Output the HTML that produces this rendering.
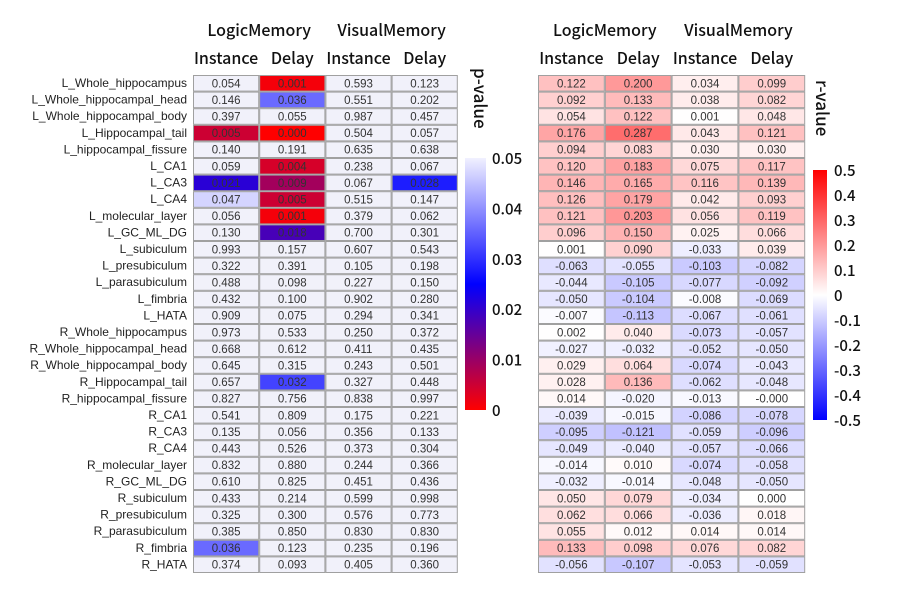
<!DOCTYPE html>
<html><head><meta charset="utf-8"><style>
body{margin:0;background:#fff;width:900px;height:600px;overflow:hidden}
svg{display:block}
</style></head><body>
<svg id="chart" width="900" height="600"></svg>
<script>
const rowLabels=["L_Whole_hippocampus","L_Whole_hippocampal_head","L_Whole_hippocampal_body","L_Hippocampal_tail","L_hippocampal_fissure","L_CA1","L_CA3","L_CA4","L_molecular_layer","L_GC_ML_DG","L_subiculum","L_presubiculum","L_parasubiculum","L_fimbria","L_HATA","R_Whole_hippocampus","R_Whole_hippocampal_head","R_Whole_hippocampal_body","R_Hippocampal_tail","R_hippocampal_fissure","R_CA1","R_CA3","R_CA4","R_molecular_layer","R_GC_ML_DG","R_subiculum","R_presubiculum","R_parasubiculum","R_fimbria","R_HATA"];
const colLabels=["Instance","Delay","Instance","Delay"];
const groupLabels=["LogicMemory","VisualMemory"];
const pLogicInst=[0.054,0.146,0.397,0.005,0.140,0.059,0.021,0.047,0.056,0.130,0.993,0.322,0.488,0.432,0.909,0.973,0.668,0.645,0.657,0.827,0.541,0.135,0.443,0.832,0.610,0.433,0.325,0.385,0.036,0.374];
const pLogicDelay=[0.001,0.036,0.055,0.000,0.191,0.004,0.009,0.005,0.001,0.018,0.157,0.391,0.098,0.100,0.075,0.533,0.612,0.315,0.032,0.756,0.809,0.056,0.526,0.880,0.825,0.214,0.300,0.850,0.123,0.093];
const pVisInst=[0.593,0.551,0.987,0.504,0.635,0.238,0.067,0.515,0.379,0.700,0.607,0.105,0.227,0.902,0.294,0.250,0.411,0.243,0.327,0.838,0.175,0.356,0.373,0.244,0.451,0.599,0.576,0.830,0.235,0.405];
const pVisDelay=[0.123,0.202,0.457,0.057,0.638,0.067,0.028,0.147,0.062,0.301,0.543,0.198,0.150,0.280,0.341,0.372,0.435,0.501,0.448,0.997,0.221,0.133,0.304,0.366,0.436,0.998,0.773,0.830,0.196,0.360];
const rLogicInst=[0.122,0.092,0.054,0.176,0.094,0.120,0.146,0.126,0.121,0.096,0.001,-0.063,-0.044,-0.050,-0.007,0.002,-0.027,0.029,0.028,0.014,-0.039,-0.095,-0.049,-0.014,-0.032,0.050,0.062,0.055,0.133,-0.056];
const rLogicDelay=[0.200,0.133,0.122,0.287,0.083,0.183,0.165,0.179,0.203,0.150,0.090,-0.055,-0.105,-0.104,-0.113,0.040,-0.032,0.064,0.136,-0.020,-0.015,-0.121,-0.040,0.010,-0.014,0.079,0.066,0.012,0.098,-0.107];
const rVisInst=[0.034,0.038,0.001,0.043,0.030,0.075,0.116,0.042,0.056,0.025,-0.033,-0.103,-0.077,-0.008,-0.067,-0.073,-0.052,-0.074,-0.062,-0.013,-0.086,-0.059,-0.057,-0.074,-0.048,-0.034,-0.036,0.014,0.076,-0.053];
const rVisDelay=[0.099,0.082,0.048,0.121,0.030,0.117,0.139,0.093,0.119,0.066,0.039,-0.082,-0.092,-0.069,-0.061,-0.057,-0.050,-0.043,-0.048,-0.000,-0.078,-0.096,-0.066,-0.058,-0.050,0.000,0.018,0.014,0.082,-0.059];
const pTicks=[0.05,0.04,0.03,0.02,0.01,0];
const rTicks=[0.5,0.4,0.3,0.2,0.1,0,-0.1,-0.2,-0.3,-0.4,-0.5];

const NS="http://www.w3.org/2000/svg";
const svg=document.getElementById('chart');
function mk(tag,attrs,parent){const e=document.createElementNS(NS,tag);for(const k in attrs)e.setAttribute(k,attrs[k]);(parent||svg).appendChild(e);return e;}
const FONT='"Liberation Sans",Arial,sans-serif';
const HFONT='"Noto Sans CJK SC","Liberation Sans",sans-serif';
const top0=75,rowH=16.6;
const yRow=i=>top0+i*rowH;
function lerp(a,b,t){return a.map((v,i)=>Math.round(v+(b[i]-v)*t));}
function pColor(p){
  if(p>=0.05) return 'rgb(241,241,250)';
  if(p<=0.025) return 'rgb('+lerp([255,0,0],[0,0,255],p/0.025).join(',')+')';
  return 'rgb('+lerp([0,0,255],[241,241,255],(p-0.025)/0.025).join(',')+')';
}
function rColor(r){
  const t=Math.min(1,Math.abs(r)/0.5);
  return r>=0?'rgb('+lerp([255,255,255],[255,0,0],t).join(',')+')':'rgb('+lerp([255,255,255],[0,0,255],t).join(',')+')';
}
const xCols=(x0,w)=>j=>x0+j*w;

rowLabels.forEach((lab,i)=>{
  const t=mk('text',{x:187,y:yRow(i)+12,'text-anchor':'end','font-size':'12','font-family':FONT,fill:'#222'});
  t.textContent=lab;
  
  
});

function table(x0,w,cols,colorFn,name){
  const xc=xCols(x0,w);
  const g=mk('g',{});
  
  
  cols.forEach((arr,j)=>{
    arr.forEach((v,i)=>{
      const r=mk('rect',{x:xc(j)+0.5,y:yRow(i)+0.5,width:w-1,height:rowH-1,fill:colorFn(v),stroke:'#a0a0a0','stroke-width':1},g);
      
      
      const t=mk('text',{x:xc(j)+w/2,y:yRow(i)+12.3,'text-anchor':'middle','font-size':'11.5','font-family':FONT,fill:'#333'},g);
      t.textContent=(v<0||Object.is(v,-0)?'-':'')+Math.abs(v).toFixed(3);
      
      
    });
  });
  groupLabels.forEach((gl,k)=>{
    const t=mk('text',{x:xc(2*k)+w,y:36,'text-anchor':'middle','font-size':'16','font-weight':'500','font-family':HFONT,fill:'#111'});
    t.textContent=gl;
    
    
  });
  colLabels.forEach((cl,j)=>{
    const t=mk('text',{x:xc(j)+w/2,y:64,'text-anchor':'middle','font-size':'16','font-weight':'500','font-family':HFONT,fill:'#111'});
    t.textContent=cl;
    
    
  });
}
table(193,66.2,[pLogicInst,pLogicDelay,pVisInst,pVisDelay],pColor,'p-value-table');
table(538,66.8,[rLogicInst,rLogicDelay,rVisInst,rVisDelay],rColor,'r-value-table');

const defs=mk('defs',{});
const g1=mk('linearGradient',{id:'pg',x1:0,y1:0,x2:0,y2:1},defs);
[[0,'rgb(241,241,255)'],[0.5,'rgb(0,0,255)'],[1,'rgb(255,0,0)']].forEach(s=>mk('stop',{offset:s[0],'stop-color':s[1]},g1));
const g2=mk('linearGradient',{id:'rg',x1:0,y1:0,x2:0,y2:1},defs);
[[0,'rgb(255,0,0)'],[0.5,'rgb(255,255,255)'],[1,'rgb(0,0,255)']].forEach(s=>mk('stop',{offset:s[0],'stop-color':s[1]},g2));

const pb=mk('rect',{x:465,y:158,width:21,height:252,fill:'url(#pg)'});


const pY=v=>158+(0.05-v)/0.05*252;
pTicks.forEach(v=>{
  const t=mk('text',{x:492,y:pY(v)+6,'font-size':'15','font-weight':'500','font-family':HFONT,fill:'#111'});
  t.textContent=v===0?'0':v.toFixed(2);
  
  
});
const pt=mk('text',{x:0,y:0,transform:'translate(474,68) rotate(90)','font-size':'17','font-weight':'500','font-family':HFONT,fill:'#111'});
pt.textContent='p-value';



const rb=mk('rect',{x:813,y:170,width:14,height:250,fill:'url(#rg)'});


const rY=v=>170+(0.5-v)/1*250;
rTicks.forEach(v=>{
  const t=mk('text',{x:834,y:rY(v)+6,'font-size':'15','font-weight':'500','font-family':HFONT,fill:'#111'});
  t.textContent=v===0?'0':String(v);
  
  
});
const rt=mk('text',{x:0,y:0,transform:'translate(816,80) rotate(90)','font-size':'17','font-weight':'500','font-family':HFONT,fill:'#111'});
rt.textContent='r-value';


</script>
</body></html>
